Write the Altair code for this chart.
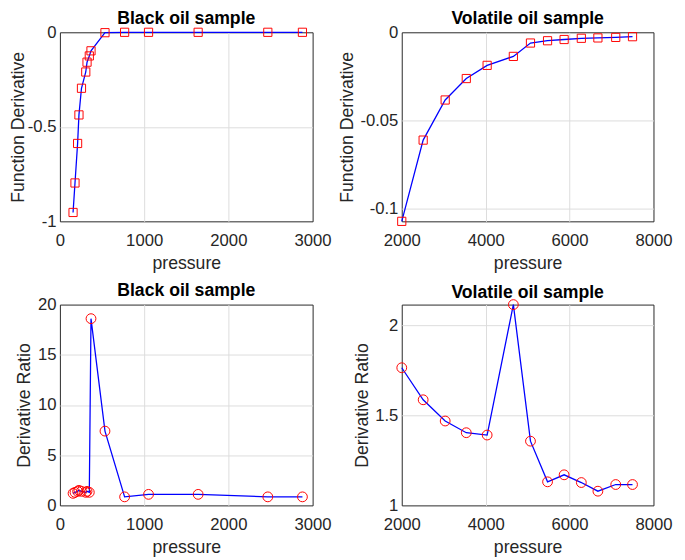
import altair as alt
import pandas as pd

# ---- data ----
bo_pressure = [156, 179, 210, 226, 256, 307, 322, 349, 369, 535, 768, 1052, 1641, 2468, 2879]
bo_func_deriv = [-0.953, -0.797, -0.588, -0.437, -0.296, -0.210, -0.158, -0.125, -0.098,
                 -0.002, 0.0, 0.0, 0.0, 0.0, 0.0]
bo_deriv_ratio = [1.2, 1.3, 1.4, 1.5, 1.4, 1.3, 1.4, 1.3, 18.6, 7.4, 0.85, 1.1, 1.1, 0.85, 0.85]

vo_pressure = [2000, 2510, 3035, 3538, 4035, 4660, 5068, 5475, 5870, 6280, 6675, 7100, 7500]
vo_func_deriv = [-0.1075, -0.0613, -0.0385, -0.0263, -0.0188, -0.0137, -0.0061, -0.0048,
                 -0.0041, -0.0034, -0.0032, -0.0029, -0.0025]
vo_deriv_ratio = [1.765, 1.587, 1.469, 1.404, 1.391, 2.116, 1.357, 1.131, 1.170, 1.127,
                  1.079, 1.116, 1.116]

bo_xticks = [0, 1000, 2000, 3000]
vo_xticks = [2000, 4000, 6000, 8000]

FONT = "Liberation Sans"
BLUE = "#0000FF"
RED = "#FF0000"


def interior(vals, dom):
    lo, hi = min(dom), max(dom)
    return [v for v in vals if lo < v < hi]


def panel(p, v, xdom, xticks, ydom, yticks, ytitle, title, shape, msize,
          w, h, ytp, toff):
    df = pd.DataFrame({"pressure": p, "value": v, "idx": list(range(len(p)))})
    xs = alt.Scale(domain=xdom, nice=False, zero=False)
    ys = alt.Scale(domain=ydom, nice=False, zero=False)
    # labelled axes (no grid)
    x1 = alt.X("pressure:Q", scale=xs,
               axis=alt.Axis(values=xticks, title="pressure", grid=False,
                             labelExpr="'' + datum.value"))
    y1 = alt.Y("value:Q", scale=ys,
               axis=alt.Axis(values=yticks, title=ytitle, titlePadding=ytp, grid=False,
                             labelExpr="'' + datum.value"))
    # grid-only axes (interior grid lines so the frame stays dark)
    x2 = alt.X("pressure:Q", scale=xs,
               axis=alt.Axis(values=interior(xticks, xdom), orient="top", title="",
                             labels=False, grid=True, domain=False, ticks=False,
                             titlePadding=0, labelPadding=0))
    y2 = alt.Y("value:Q", scale=ys,
               axis=alt.Axis(values=interior(yticks, ydom), orient="right", title="",
                             labels=False, grid=True, domain=False, ticks=False,
                             titlePadding=0, labelPadding=0))
    base = alt.Chart(df)
    line = base.mark_line(color=BLUE, strokeWidth=1.3, clip=False).encode(
        x=x2, y=y2, order="idx:Q")
    pts = base.mark_point(shape=shape, size=msize, color=RED, filled=False,
                          strokeWidth=1, opacity=1, clip=False).encode(x=x1, y=y1)
    return alt.layer(line, pts).resolve_axis(x="independent", y="independent").properties(
        width=w, height=h, title=alt.TitleParams(title, offset=toff, frame="group"))


tl = panel(bo_pressure, bo_func_deriv, [0, 3000], bo_xticks, [-1, 0], [-1, -0.5, 0],
           "Function Derivative", "Black oil sample", "square", 70, 258, 193, 0.3, -5)
tr = panel(vo_pressure, vo_func_deriv, [2000, 8000], vo_xticks, [-0.1075, 0],
           [-0.1, -0.05, 0], "Function Derivative", "Volatile oil sample", "square", 70,
           257, 193, 3.5, -5)
bl = panel(bo_pressure, bo_deriv_ratio, [0, 3000], bo_xticks, [0, 20], [0, 5, 10, 15, 20],
           "Derivative Ratio", "Black oil sample", "circle", 100, 258, 205, 4.4, -4)
br = panel(vo_pressure, vo_deriv_ratio, [2000, 8000], vo_xticks, [1, 2.116], [1, 1.5, 2],
           "Derivative Ratio", "Volatile oil sample", "circle", 100, 257, 205, 3.4, -4)

chart = alt.concat(tl, tr, bl, br, columns=2, spacing={"row": 85, "column": 91}).properties(
    padding={"top": -4, "left": 0, "right": 4, "bottom": 0}, bounds="flush"
).configure_view(
    stroke="#262626", strokeWidth=1
).configure_axis(
    labelFont=FONT, labelFontSize=17, labelColor="#262626",
    titleFont=FONT, titleFontSize=18, titleFontWeight="normal", titleColor="#262626",
    gridColor="#dcdcdc", gridWidth=1, ticks=False, domain=False,
    labelOverlap=False, labelFlush=False
).configure_axisX(
    labelPadding=12, titlePadding=6
).configure_axisY(
    labelPadding=4
).configure_title(
    font=FONT, fontSize=18, fontWeight="bold", color="#000000", anchor="middle"
)

chart.save("out.html", embed_options={"renderer": "svg", "actions": False})
